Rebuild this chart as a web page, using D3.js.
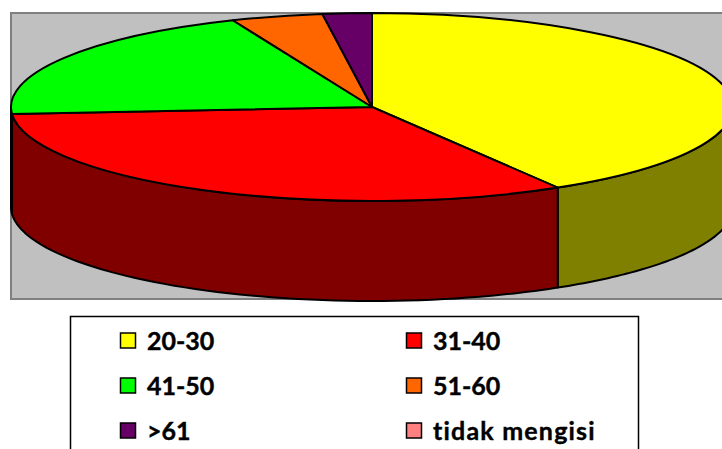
<!DOCTYPE html>
<html>
<head>
<meta charset="utf-8">
<script src="https://cdn.jsdelivr.net/npm/d3@7"></script>
<style>
html, body { margin: 0; padding: 0; background: #fff; overflow: hidden; }
svg { display: block; }
text { font-family: Lato, sans-serif; font-weight: 700; font-size: 25px; fill: #000; stroke: #000; stroke-width: 0.4px; }
</style>
</head>
<body>
<svg id="chart" width="722" height="449"></svg>
<script>
// values, percent of the pie
const categories = ["20-30", "31-40", "41-50", "51-60", ">61", "tidak mengisi"];
const values = [41.4, 32.4, 19.9, 4.1, 2.2, 0];
const topColors = ["#ffff00", "#ff0000", "#00ff00", "#ff6600", "#660066", "#ff8080"];
const sideColors = ["#808000", "#800000", "#008000", "#803300", "#330033", "#804040"];

const width = 722, height = 449;
const cx = 372, cy = 107, rx = 361, ry = 94, depth = 100;

const svg = d3.select("#chart");

// plot area
svg.append("rect")
    .attr("x", 11)
    .attr("y", 13)
    .attr("width", 730)
    .attr("height", 286)
    .attr("fill", "#c0c0c0")
    .attr("stroke", "#808080")
    .attr("stroke-width", 2);

const pie = d3.pie().sort(null)(values);

// angle on the ellipse, 0 at the top, clockwise
const ex = a => cx + rx * Math.sin(a);
const ey = a => cy - ry * Math.cos(a);

const edge = d3.line().x(d => d[0]).y(d => d[1]);

// side wall, only the front half of the rim shows
const sides = svg.append("g");
pie.forEach((d, i) => {
    const a0 = Math.max(d.startAngle, Math.PI / 2);
    const a1 = Math.min(d.endAngle, Math.PI * 1.5);
    if (a1 <= a0) return;
    const rim = d3.range(0, 61).map(k => a0 + (a1 - a0) * k / 60);
    const pts = rim.map(a => [ex(a), ey(a)])
        .concat(rim.slice().reverse().map(a => [ex(a), ey(a) + depth]));
    sides.append("path")
        .attr("d", edge(pts) + "Z")
        .attr("fill", sideColors[i])
        .attr("stroke", "#000")
        .attr("stroke-width", 2)
        .attr("stroke-linejoin", "round");
});

// top face, a flat pie squashed to an ellipse
const arc = d3.arc().innerRadius(0).outerRadius(rx);
svg.append("g")
    .attr("transform", `translate(${cx},${cy}) scale(1,${ry / rx})`)
    .selectAll("path")
    .data(pie.filter(d => d.value > 0))
    .join("path")
    .attr("d", arc)
    .attr("fill", d => topColors[d.index])
    .attr("stroke", "#000")
    .attr("stroke-width", 2)
    .attr("stroke-linejoin", "round")
    .attr("vector-effect", "non-scaling-stroke");

// legend
svg.append("rect")
    .attr("x", 70.5)
    .attr("y", 316.5)
    .attr("width", 568)
    .attr("height", 160)
    .attr("fill", "#fff")
    .attr("stroke", "#000")
    .attr("stroke-width", 1.5);

const colX = d3.scaleOrdinal().domain([0, 1]).range([120, 406]);
const rowY = d3.scaleOrdinal().domain([0, 1, 2]).range([341, 386, 431]);

const items = svg.append("g")
    .selectAll("g")
    .data(categories)
    .join("g")
    .attr("transform", (d, i) => `translate(${colX(i % 2)},${rowY(Math.floor(i / 2))})`);

items.append("rect")
    .attr("x", 0.5)
    .attr("y", -8)
    .attr("width", 15)
    .attr("height", 15)
    .attr("fill", (d, i) => topColors[i])
    .attr("stroke", "#000")
    .attr("stroke-width", 1.5);

// the long label runs wider in the original
items.append("text")
    .attr("x", 27)
    .attr("y", 9)
    .attr("letter-spacing", d => d.length > 6 ? 1.2 : 0)
    .text(d => d);
</script>
</body>
</html>
